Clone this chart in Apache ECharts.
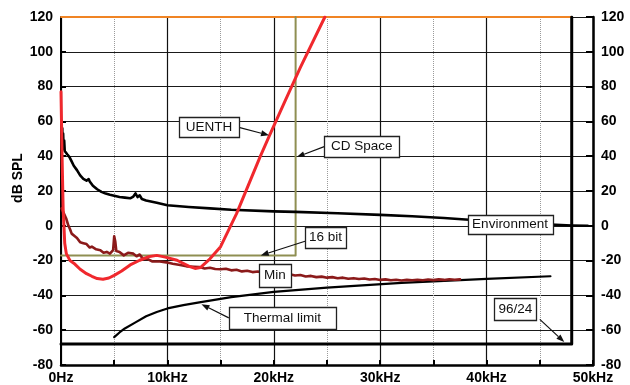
<!DOCTYPE html>
<html>
<head>
<meta charset="utf-8">
<script src="https://cdn.jsdelivr.net/npm/echarts@6/dist/echarts.min.js"></script>
<style>
  html, body { margin: 0; padding: 0; background: #fff; }
  #chart { width: 630px; height: 385px; }
</style>
</head>
<body>
<div id="chart"></div>
<script>
// Frequency in kHz, level in dB SPL
const xTickLabels = ['0Hz', '10kHz', '20kHz', '30kHz', '40kHz', '50kHz'];
const yTicks = [-80, -60, -40, -20, 0, 20, 40, 60, 80, 100, 120];

// Threshold of hearing (UENTH)
const uenth = [
  [0, 77], [0.1, 40], [0.2, 10], [0.35, -10], [0.5, -16], [0.85, -20], [1.3, -22],
  [1.8, -25], [2.4, -27.5], [2.9, -29], [3.4, -30.3], [3.95, -30.7], [4.5, -30],
  [5.0, -28.5], [5.7, -26], [6.5, -22.5], [7.4, -19.8], [8.2, -17.8], [9.0, -17],
  [9.8, -18], [10.9, -19.8], [12.1, -23.5], [12.6, -24.5], [13.1, -24], [14, -19],
  [15, -12], [16.5, 7], [18.7, 39.5], [19.6, 52], [21, 71], [22.5, 91], [24.8, 120]
];

// Ambient environment noise
const environment = [
  [0.03, 50], [0.06, 57], [0.09, 47], [0.12, 56], [0.16, 45], [0.2, 53], [0.25, 44],
  [0.3, 49], [0.35, 43], [0.45, 44], [0.6, 41], [0.8, 39.5], [1.0, 37], [1.2, 34.5],
  [1.5, 32], [1.8, 29], [2.1, 27], [2.4, 26], [2.6, 26.8], [2.7, 25.5], [3.0, 23],
  [3.4, 21], [3.8, 19.5], [4.2, 18.5], [4.6, 17.8], [5.0, 17.3], [5.5, 16.6],
  [6.0, 16.2], [6.5, 15.8], [6.8, 16.8], [7.0, 18.6], [7.2, 16.5], [7.4, 17.5],
  [7.6, 15.4], [8.0, 14.6], [9.0, 13.2], [10, 11.8], [12, 10.8], [14, 10], [16, 9.2],
  [20, 8.3], [22, 8], [26, 7.2], [30, 6.3], [33, 5.5], [36, 4.5], [38, 3.6], [42, 2.2],
  [46, 0.7], [48, 0.2], [49.5, 0]
];

// Minimum measured noise floor
const minLevel = [
  [0.05, 10], [0.2, 8], [0.35, 6], [0.5, 4], [0.7, 0], [0.85, -2], [1.0, -4.5],
  [1.3, -6], [1.5, -7], [1.8, -9.5], [2.1, -10], [2.4, -10.5], [2.7, -12.5],
  [2.9, -12], [3.3, -13.5], [3.7, -14], [4.0, -15.5], [4.3, -15], [4.6, -16],
  [4.9, -14], [5.0, -6], [5.1, -9], [5.2, -14.5], [5.5, -15], [5.9, -17],
  [6.3, -15.5], [6.8, -16], [7.1, -17.5], [7.4, -16.5], [7.7, -19], [8.1, -19],
  [8.6, -20.5], [9.3, -20.5], [9.9, -21], [10.5, -21.8], [11.2, -22.5],
  [11.8, -23.3], [12.5, -23.5], [13, -23.7], [13.5, -24.5], [14, -24.1],
  [14.5, -24.8], [15, -25], [15.5, -24.7], [16, -25.6], [16.5, -25.3], [17, -26.2],
  [17.5, -25.8], [18, -26.6], [18.5, -26.3], [19, -27.1], [19.5, -26.8], [20, -27.6],
  [20.5, -27.4], [21, -28.1], [21.5, -27.8], [22, -28.6], [22.5, -28.3], [23, -29.1],
  [23.5, -28.8], [24, -29.5], [24.5, -29.2], [25, -29.8], [25.5, -29.5], [26, -30.1],
  [26.5, -29.8], [27, -30.4], [27.5, -30.1], [28, -30.6], [28.5, -30.3], [29, -30.9],
  [29.5, -30.6], [30, -31.1], [30.5, -30.8], [31, -31.3], [31.5, -31], [32, -31.4],
  [32.5, -31.1], [33, -31.3], [33.5, -31], [34, -31.3], [34.5, -30.9], [35, -31.2],
  [35.5, -30.8], [36, -31.1], [36.5, -30.7], [37, -31], [37.5, -30.8]
];

// Thermal noise limit
const thermal = [
  [5, -64], [5.5, -61.3], [6, -59], [7, -55.5], [8, -52], [9, -49.5], [10, -47.5],
  [11.5, -45.6], [13, -44], [16, -41], [20, -38], [25, -35.5], [32, -32.8],
  [40, -30.5], [46, -29]
];

// Format boundaries
const cdSpace = [[0, -17], [22.05, -17], [22.05, 120]];
const hiRes = [[0, -68], [48, -68], [48, 120]];
const ceiling = [[0, 120], [48, 120]];

// Callout boxes: centre, size, optional arrow from box edge to a point on a curve
const callouts = [
  { text: 'UENTH',         at: [13.9, 56.6],  w: 60,  h: 20, from: [30, 0],  to: [19.55, 52] },
  { text: 'CD Space',      at: [28.26, 45.5], w: 75,  h: 21, from: [-37.5, 0], to: [22.15, 39.5] },
  { text: '16 bit',        at: [24.86, -6.6], w: 41,  h: 21, from: [-20.5, 4], to: [18.77, -17] },
  { text: 'Min',           at: [20.1, -28.3], w: 32,  h: 23 },
  { text: 'Thermal limit', at: [20.8, -52.9], w: 107, h: 22, from: [-53.5, 0], to: [13.2, -45.1] },
  { text: 'Environment',   at: [42.2, 1.0],   w: 85,  h: 19 },
  { text: '96/24',         at: [42.7, -48],   w: 42,  h: 22, from: [24.5, 10], to: [47.3, -66.8] }
];

const FONT = '"Liberation Sans", Arial, sans-serif';
const chart = echarts.init(document.getElementById('chart'), null, { renderer: 'canvas' });

function lineSeries(name, data, color, width, z) {
  return {
    name, type: 'line', data, xAxisIndex: 0, yAxisIndex: 0,
    showSymbol: false, symbol: 'none', smooth: false, clip: true,
    lineStyle: { color, width, join: 'round', cap: 'round' }, z: z || 3
  };
}

const yLabel = {
  fontFamily: FONT, fontWeight: 'bold', fontSize: 14, color: '#000', margin: 8
};

chart.setOption({
  animation: false,
  backgroundColor: '#fff',
  grid: { left: 61, right: 37, top: 17, bottom: 20 },
  xAxis: [
    {
      type: 'value', min: 0, max: 50, interval: 5,
      axisLine: { show: true, onZero: false, lineStyle: { color: '#000', width: 2.5 } },
      axisTick: { show: true, inside: true, length: 5, lineStyle: { color: '#000', width: 2 } },
      axisLabel: {
        fontFamily: FONT, fontWeight: 'bold', fontSize: 14, color: '#000', margin: 6,
        formatter: v => (v % 10 === 0 ? xTickLabels[v / 10] : '')
      },
      splitLine: { show: true, lineStyle: { color: '#9a9a9a', width: 1, type: [1, 1] } }
    },
    {
      type: 'value', min: 0, max: 50, interval: 10, position: 'bottom',
      axisLine: { show: false }, axisTick: { show: false }, axisLabel: { show: false },
      splitLine: { show: true, lineStyle: { color: '#111', width: 1.2 } }
    }
  ],
  yAxis: [
    {
      type: 'value', min: -80, max: 120, interval: 20, position: 'left',
      axisLine: { show: true, onZero: false, lineStyle: { color: '#000', width: 2 } },
      axisTick: { show: true, inside: true, length: 5, lineStyle: { color: '#000', width: 2 } },
      axisLabel: yLabel,
      splitLine: { show: true, lineStyle: { color: '#1a1a1a', width: 1.2 } }
    },
    {
      type: 'value', min: -80, max: 120, interval: 20, position: 'right',
      axisLine: { show: true, onZero: false, lineStyle: { color: '#000', width: 2.5 } },
      axisTick: { show: true, inside: true, length: 7, lineStyle: { color: '#000', width: 2 } },
      axisLabel: yLabel,
      splitLine: { show: false }
    }
  ],
  series: [
    lineSeries('Ceiling', ceiling, '#f08424', 1.8, 2),
    lineSeries('CD Space', cdSpace, '#8f8f52', 2, 3),
    lineSeries('96/24', hiRes, '#000', 3, 3),
    lineSeries('Thermal limit', thermal, '#000', 2.2, 4),
    lineSeries('Environment', environment, '#000', 2.6, 4),
    lineSeries('Min', minLevel, '#8b1a1a', 2.6, 5),
    lineSeries('UENTH', uenth, '#f0282d', 3, 6)
  ]
});

// Callouts placed from data coordinates
const graphics = [];
callouts.forEach(c => {
  const p = chart.convertToPixel({ gridIndex: 0 }, c.at);
  graphics.push({
    type: 'rect', z: 100,
    shape: { x: Math.round(p[0] - c.w / 2) + 0.5, y: Math.round(p[1] - c.h / 2) + 0.5, width: c.w, height: c.h },
    style: { fill: '#fff', stroke: '#222', lineWidth: 1.3 }
  });
  graphics.push({
    type: 'text', z: 101, x: p[0], y: p[1],
    style: { text: c.text, font: '13.5px ' + FONT, fill: '#111', align: 'center', verticalAlign: 'middle' }
  });
  if (c.to) {
    const s = [p[0] + c.from[0], p[1] + c.from[1]];
    const e = chart.convertToPixel({ gridIndex: 0 }, c.to);
    const ang = Math.atan2(e[1] - s[1], e[0] - s[0]);
    const L = 8, W = 3;
    const bx = e[0] - L * Math.cos(ang), by = e[1] - L * Math.sin(ang);
    graphics.push({
      type: 'line', z: 99,
      shape: { x1: s[0], y1: s[1], x2: bx, y2: by },
      style: { stroke: '#111', lineWidth: 1.2 }
    });
    graphics.push({
      type: 'polygon', z: 99,
      shape: { points: [
        [e[0], e[1]],
        [bx + W * Math.sin(ang), by - W * Math.cos(ang)],
        [bx - W * Math.sin(ang), by + W * Math.cos(ang)]
      ] },
      style: { fill: '#111' }
    });
  }
});

// Vertical axis title
graphics.push({
  type: 'text', z: 100, x: 18, y: 178, rotation: Math.PI / 2,
  style: { text: 'dB SPL', font: 'bold 14px ' + FONT, fill: '#000', align: 'center', verticalAlign: 'middle' }
});

chart.setOption({ graphic: graphics });
</script>
</body>
</html>
